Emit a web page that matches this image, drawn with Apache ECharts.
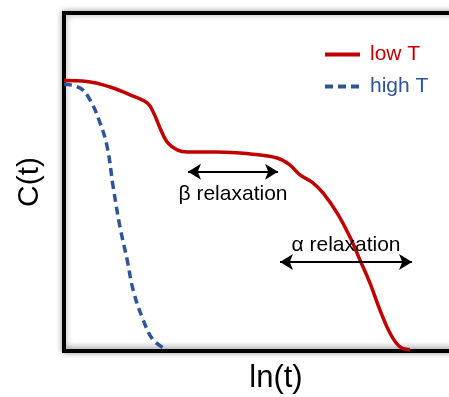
<!DOCTYPE html>
<html>
<head>
<meta charset="utf-8">
<script src="https://cdn.jsdelivr.net/npm/echarts@6/dist/echarts.min.js"></script>
<style>
  html, body { margin: 0; padding: 0; background: #fff; }
  #chart { width: 449px; height: 397px; }
</style>
</head>
<body>
<div id="chart"></div>
<script>
// Correlation function C(t) against ln(t), arbitrary units
const lowT = [
  [0.00, 0.800], [0.57, 0.797], [1.15, 0.781], [1.73, 0.754], [2.08, 0.734],
  [2.23, 0.707], [2.40, 0.660], [2.58, 0.618], [2.83, 0.595], [3.08, 0.589],
  [3.83, 0.589], [4.65, 0.583], [5.33, 0.571], [5.65, 0.550], [5.90, 0.521],
  [6.23, 0.497], [6.48, 0.467], [6.83, 0.408], [7.15, 0.337], [7.40, 0.269],
  [7.65, 0.201], [7.90, 0.121], [8.15, 0.053], [8.40, 0.012], [8.65, 0.004]
];
const highT = [
  [0.00, 0.790], [0.40, 0.778], [0.65, 0.743], [0.90, 0.675], [1.08, 0.604],
  [1.23, 0.485], [1.40, 0.367], [1.58, 0.269], [1.73, 0.180], [1.98, 0.092],
  [2.23, 0.033], [2.58, 0.003]
];
// Relaxation ranges: [x start, x end, level]
const betaRange = [3.10, 5.35, 0.530];
const alphaRange = [5.40, 8.70, 0.263];

const FONT = 'Liberation Sans, Arial, sans-serif';
const chart = echarts.init(document.getElementById('chart'));

function rangeLine(r, label, pos, dist) {
  return {
    silent: true,
    symbol: ['arrow', 'arrow'],
    symbolSize: [12, 13],
    lineStyle: { color: '#000', width: 2, type: 'solid' },
    label: {
      show: true, formatter: label, position: pos, distance: dist,
      color: '#000', fontSize: 21, fontFamily: FONT
    },
    data: [[{ coord: [r[0], r[2]] }, { coord: [r[1], r[2]] }]]
  };
}

chart.setOption({
  animation: false,
  grid: {
    left: 64, top: 13, width: 424, height: 338,
    outerBoundsMode: 'none',
    show: true, borderColor: '#000', borderWidth: 4,
    // plot area fades to a light grey just above the bottom frame
    backgroundColor: new echarts.graphic.LinearGradient(0, 0, 0, 1, [
      { offset: 0, color: '#ffffff' },
      { offset: 0.965, color: '#ffffff' },
      { offset: 1, color: '#cfcfcf' }
    ]),
    shadowColor: 'rgba(0,0,0,0.35)', shadowBlur: 6
  },
  legend: {
    left: 318, top: 39, orient: 'vertical',
    itemWidth: 35, itemHeight: 16, itemGap: 11,
    itemStyle: { opacity: 0 },
    lineStyle: { width: 4 },
    textStyle: { fontSize: 21, fontFamily: FONT, padding: [0, 0, 0, 5] },
    data: [
      { name: 'low T', textStyle: { color: '#c00000' } },
      { name: 'high T', textStyle: { color: '#2f5597' } }
    ]
  },
  xAxis: {
    type: 'value', min: 0, max: 10.6,
    name: 'ln(t)', nameLocation: 'middle', nameGap: 12,
    nameTextStyle: { fontSize: 31, fontFamily: FONT, color: '#000' },
    axisLine: { show: false }, axisTick: { show: false },
    axisLabel: { show: false }, splitLine: { show: false }
  },
  yAxis: {
    type: 'value', min: 0, max: 1,
    name: 'C(t)', nameLocation: 'middle', nameGap: 19,
    nameTextStyle: { fontSize: 30, fontFamily: FONT, color: '#000' },
    axisLine: { show: false }, axisTick: { show: false },
    axisLabel: { show: false }, splitLine: { show: false }
  },
  series: [
    {
      name: 'low T', type: 'line', data: lowT, smooth: 0.4,
      symbol: 'none', lineStyle: { color: '#c00000', width: 3.5 },
      itemStyle: { color: '#c00000' },
      markLine: rangeLine(betaRange, 'β relaxation', 'insideMiddleBottom', 12)
    },
    {
      name: 'high T', type: 'line', data: highT, smooth: 0.4,
      symbol: 'none', lineStyle: { color: '#2f5597', width: 3.5, type: [8, 5] },
      itemStyle: { color: '#2f5597' },
      markLine: rangeLine(alphaRange, 'α relaxation', 'insideMiddleTop', 6)
    }
  ]
});
</script>
</body>
</html>
